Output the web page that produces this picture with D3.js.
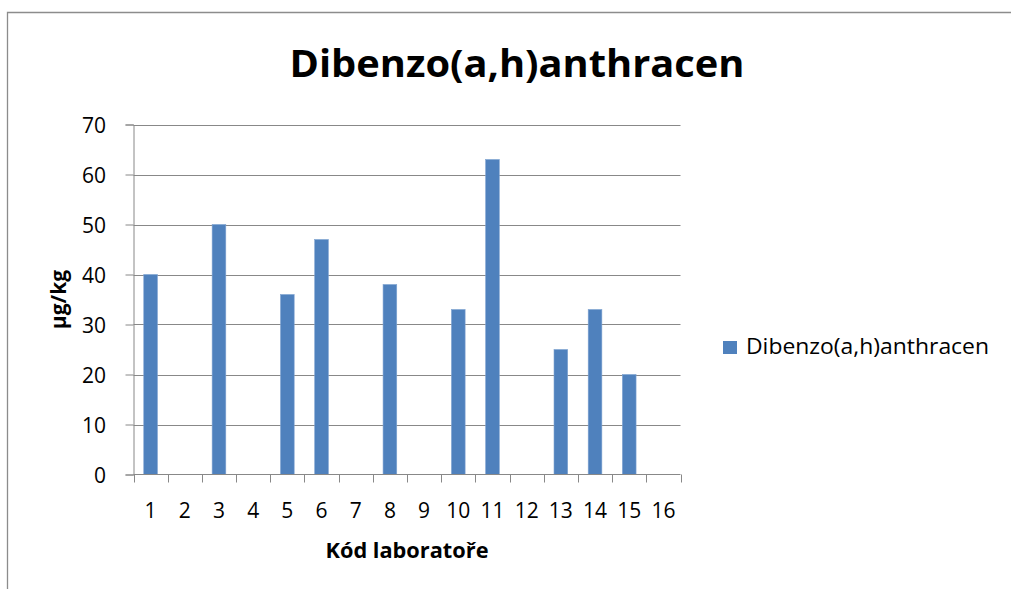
<!DOCTYPE html>
<html>
<head>
<meta charset="utf-8">
<script src="https://cdn.jsdelivr.net/npm/d3@7"></script>
<style>
  html, body { margin: 0; padding: 0; background: #fff; }
  svg { display: block; }
  text { font-family: "Open Sans", Lato, sans-serif; fill: #000; }
</style>
</head>
<body>
<script>
// Laboratory codes and measured concentrations (µg/kg); null = no result
const labCodes = ["1","2","3","4","5","6","7","8","9","10","11","12","13","14","15","16"];
const values   = [40, null, 50, null, 36, 47, null, 38, null, 33, 63, null, 25, 33, 20, null];
const yTicks   = [0, 10, 20, 30, 40, 50, 60, 70];
const seriesName = "Dibenzo(a,h)anthracen";
const chartTitle = "Dibenzo(a,h)anthracen";
const xTitle = "Kód laboratoře";
const yTitle = "µg/kg";

const W = 1011, H = 589;
const plot = { left: 133.5, right: 680.5, top: 124.5, bottom: 474.5 };
const barColor = "#4F81BD";
const gridColor = "#888888";

const svg = d3.select("body").append("svg")
  .attr("width", W).attr("height", H);

// fit a text element to a given width by scaling its glyphs horizontally
function fitWidth(sel, width) {
  sel.attr("textLength", width).attr("lengthAdjust", "spacingAndGlyphs");
  return sel;
}

// chart frame (only top and left edges fall inside the view)
svg.append("path")
  .attr("d", `M7.5,${H + 5} V12.5 H${W + 5}`)
  .attr("fill", "none").attr("stroke", "#8c8c8c").attr("stroke-width", 1.3);

const x = d3.scaleBand().domain(labCodes).range([plot.left, plot.right]).padding(0);
const y = d3.scaleLinear().domain([0, 70]).range([plot.bottom, plot.top]);

// horizontal gridlines
svg.append("g").selectAll("line").data(yTicks.filter(v => v > 0)).join("line")
  .attr("x1", plot.left).attr("x2", plot.right)
  .attr("y1", d => Math.round(y(d)) + 0.5).attr("y2", d => Math.round(y(d)) + 0.5)
  .attr("stroke", gridColor).attr("stroke-width", 1);

// bars
const barW = x.bandwidth() * 0.4;
svg.append("g").selectAll("rect").data(labCodes.map((c, i) => ({ c, v: values[i] })).filter(d => d.v != null))
  .join("rect")
  .attr("x", d => x(d.c) + (x.bandwidth() - barW) / 2)
  .attr("width", barW)
  .attr("y", d => y(d.v))
  .attr("height", d => y(0) - y(d.v))
  .attr("fill", barColor)
  .attr("stroke", "#7fa3d1").attr("stroke-width", 0.6);

// y axis
const yAxis = d3.axisLeft(y).tickValues(yTicks).tickSize(8).tickPadding(19.5);
const gy = svg.append("g").attr("transform", `translate(${plot.left},0)`).call(yAxis);
gy.select(".domain").attr("stroke", gridColor);
gy.selectAll(".tick line").attr("stroke", gridColor);
gy.selectAll(".tick text").style("font-size", "21px").style("font-family", null).attr("dy", "0.36em");

// x axis with ticks at band boundaries
const gx = svg.append("g").attr("transform", `translate(0,${plot.bottom})`);
gx.append("line").attr("x1", plot.left).attr("x2", plot.right)
  .attr("stroke", gridColor);
const bounds = labCodes.map(c => x(c)).concat([x(labCodes[labCodes.length - 1]) + x.bandwidth()]);
gx.selectAll("line.tk").data(bounds).join("line").attr("class", "tk")
  .attr("x1", d => Math.round(d) + 0.5).attr("x2", d => Math.round(d) + 0.5)
  .attr("y1", 0).attr("y2", 8).attr("stroke", gridColor);
gx.selectAll("text").data(labCodes).join("text")
  .attr("x", d => x(d) + x.bandwidth() / 2)
  .attr("y", 43)
  .attr("text-anchor", "middle")
  .style("font-size", "21px")
  .text(d => d);

// title
const title = svg.append("text")
  .attr("x", 517).attr("y", 77)
  .attr("text-anchor", "middle")
  .style("font-size", "37px").style("font-weight", "bold")
  .text(chartTitle);
fitWidth(title, 455);

// axis titles
const xt = svg.append("text")
  .attr("x", (plot.left + plot.right) / 2).attr("y", 558)
  .attr("text-anchor", "middle")
  .style("font-size", "21px").style("font-weight", "bold")
  .text(xTitle);
fitWidth(xt, 163);
svg.append("text")
  .attr("transform", `translate(66,${(plot.top + plot.bottom) / 2}) rotate(-90)`)
  .attr("text-anchor", "middle")
  .style("font-size", "21px").style("font-weight", "bold")
  .text(yTitle);

// legend
const lg = svg.append("g").attr("transform", "translate(723,341)");
lg.append("rect").attr("width", 14).attr("height", 13).attr("fill", barColor);
const lt = lg.append("text").attr("x", 23).attr("y", 12.7)
  .style("font-size", "22px").text(seriesName);
fitWidth(lt, 243);
</script>
</body>
</html>
